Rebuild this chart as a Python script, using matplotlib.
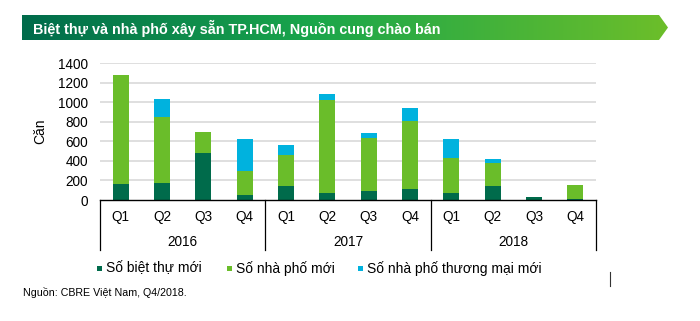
import numpy as np
import matplotlib
matplotlib.use("Agg")
import matplotlib.pyplot as plt
from matplotlib.patches import Polygon, Rectangle
from matplotlib.colors import LinearSegmentedColormap
import matplotlib.transforms as mtransforms

plt.rcParams['font.family'] = ['Liberation Sans', 'DejaVu Sans']

# ---- data ----
title = "Biệt thự và nhà phố xây sẵn TP.HCM, Nguồn cung chào bán"
quarters = ["Q1", "Q2", "Q3", "Q4"] * 3
years = ["2016", "2017", "2018"]
series_names = ["Số biệt thự mới", "Số nhà phố mới", "Số nhà phố thương mại mới"]
villas = [165, 175, 485, 50, 140, 75, 90, 115, 75, 145, 30, 15]
townhouses = [1115, 675, 210, 245, 325, 950, 550, 690, 360, 230, 0, 140]
shophouses = [0, 180, 0, 325, 100, 60, 45, 140, 185, 40, 0, 0]
yticks = [0, 200, 400, 600, 800, 1000, 1200, 1400]
ylabel = "Căn"
source = "Nguồn: CBRE Việt Nam, Q4/2018."

colors = ["#006B4B", "#6ABD2A", "#00B2DE"]

W, H = 700, 321
fig = plt.figure(figsize=(W / 100, H / 100), dpi=100)

# overlay axes in pixel coordinates
ov = fig.add_axes([0, 0, 1, 1], zorder=0)
ov.set_xlim(0, W)
ov.set_ylim(H, 0)
ov.axis("off")

# banner with gradient
cmap = LinearSegmentedColormap.from_list(
    "g", [(0.0, "#006B4B"), (0.45, "#1AA64B"), (1.0, "#6CBE2A")])
grad = np.linspace(0, 1, 256).reshape(1, -1)
im = ov.imshow(grad, cmap=cmap, extent=[22, 668, 40, 15], aspect="auto",
               interpolation="bicubic")
poly = Polygon([(22, 15), (659, 15), (668, 27.5), (659, 40), (22, 40)],
               closed=True, transform=ov.transData, facecolor="none",
               edgecolor="none")
ov.add_patch(poly)
im.set_clip_path(poly)
ov.text(33, 28, title, color="white", fontsize=10.4, fontweight="bold",
        va="center", ha="left")

# main chart axes
left, right, bottom_px, top_px = 100, 596, 200, 63.3
ax = fig.add_axes([left / W, 1 - bottom_px / H, (right - left) / W,
                   (bottom_px - top_px) / H], zorder=1)
ax.patch.set_alpha(0)
x = np.arange(len(quarters))
bw = 0.39
b0 = np.array(villas)
b1 = np.array(townhouses)
b2 = np.array(shophouses)
ax.bar(x, b0, bw, color=colors[0], zorder=3)
ax.bar(x, b1, bw, bottom=b0, color=colors[1], zorder=3)
ax.bar(x, b2, bw, bottom=b0 + b1, color=colors[2], zorder=3)

ax.set_xlim(-0.5, len(quarters) - 0.5)
ax.set_ylim(0, 1400)
ax.set_yticks(yticks)
ax.set_yticklabels([str(v) for v in yticks], fontsize=9.8)
ax.tick_params(axis="y", length=0, pad=8.5)
ax.set_xticks([])
for s in ["top", "right", "left"]:
    ax.spines[s].set_visible(False)
ax.spines["bottom"].set_color("black")
ax.spines["bottom"].set_linewidth(1.0)
ax.spines["bottom"].set_zorder(4)
for v in yticks[1:]:
    ax.axhline(v, color="#D9D9D9", linewidth=1.2, zorder=1)

ax.set_ylabel(ylabel, fontsize=10, labelpad=10)
ax.yaxis.set_label_coords(-(100 - 47.5) / (right - left), 0.5)

# category labels
xt = ax.get_xaxis_transform()
tq = mtransforms.offset_copy(xt, fig=fig, y=-17, units="dots")
ty = mtransforms.offset_copy(xt, fig=fig, y=-41.5, units="dots")
for i, q in enumerate(quarters):
    ax.text(i, 0, q, transform=tq, ha="center", va="center", fontsize=9.8)
for j, yr in enumerate(years):
    ax.text(j * 4 + 1.5, 0, yr, transform=ty, ha="center", va="center",
            fontsize=9.8)
sep_depth = -(250 - 200) / (bottom_px - top_px)
for k in range(len(years) + 1):
    ax.plot([k * 4 - 0.5, k * 4 - 0.5], [0, sep_depth], transform=xt,
            color="black", linewidth=0.9, clip_on=False, zorder=4)

# legend (manual)
leg_x = [97, 227, 358]
for lx, name, c in zip(leg_x, series_names, colors):
    ov.add_patch(Rectangle((lx, 265.5), 5, 5, facecolor=c, edgecolor="none"))
    ov.text(lx + 9, 268.5, name, fontsize=10, va="center", ha="left")

# stray marker line
ov.plot([610, 610], [272, 286], color="#333333", linewidth=0.8)

# source
ov.text(23, 293, source, fontsize=7.7, va="center", ha="left")

fig.savefig("out.png", dpi=100)
